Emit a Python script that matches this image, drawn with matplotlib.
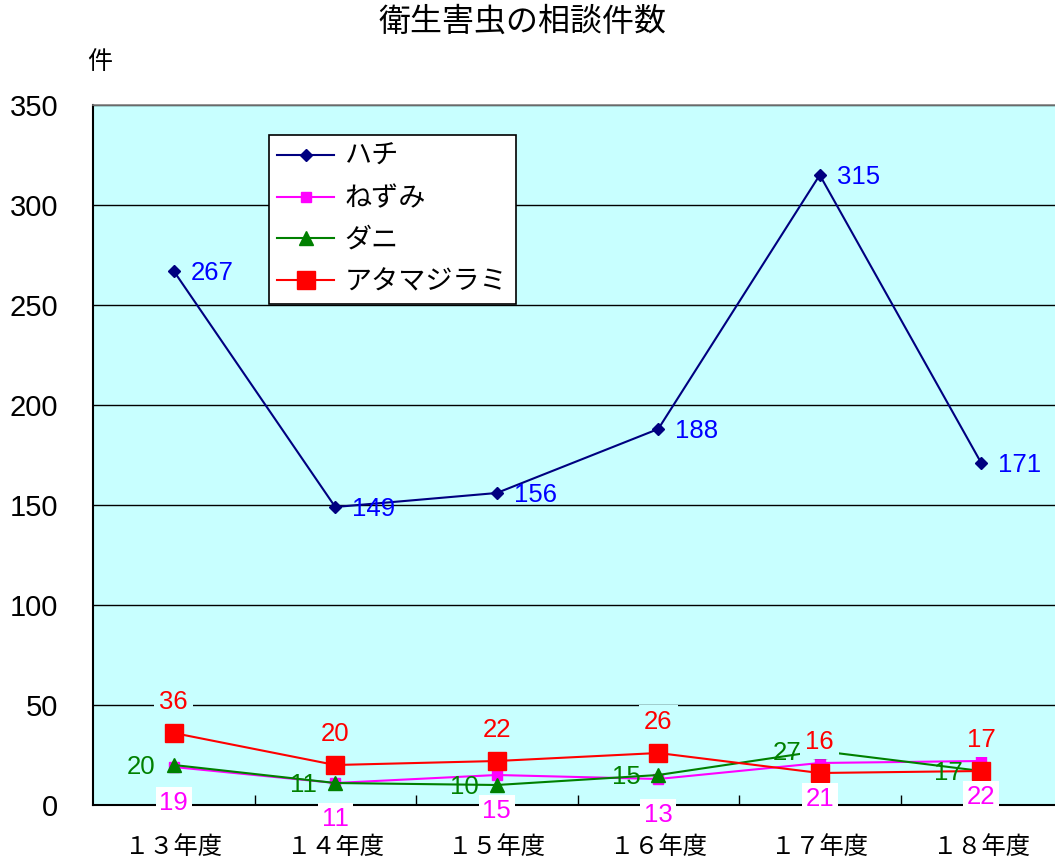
import matplotlib
matplotlib.use("Agg")
import matplotlib.pyplot as plt
from matplotlib.ticker import FixedLocator

plt.rcParams['font.family'] = ['Liberation Sans', 'Noto Sans CJK JP', 'DejaVu Sans']
JP = 'Noto Sans CJK JP'

# 衛生害虫の相談件数 (年度別)
years = ['１３年度', '１４年度', '１５年度', '１６年度', '１７年度', '１８年度']
hachi = [267, 149, 156, 188, 315, 171]
nezumi = [19, 11, 15, 13, 21, 22]
dani = [20, 11, 10, 15, 27, 17]
atama = [36, 20, 22, 26, 16, 17]
yticks = [0, 50, 100, 150, 200, 250, 300, 350]

W, H = 1055, 860
fig = plt.figure(figsize=(W / 100, H / 100), dpi=100)
# plot area runs slightly past the right edge of the image
ax = fig.add_axes([93 / W, 1 - 805 / H, (1062 - 93) / W, 700 / H])
ax.set_facecolor('#C8FFFF')

x = list(range(len(years)))
ax.plot(x, hachi, color='#000080', lw=1.5, marker='D', ms=6, label='ハチ', zorder=4)
ax.plot(x, nezumi, color='#FF00FF', lw=1.5, marker='s', ms=7, label='ねずみ', zorder=3)
ax.plot(x, dani, color='#008000', lw=1.5, marker='^', ms=10, label='ダニ', zorder=3)
ax.plot(x, atama, color='#FF0000', lw=1.5, marker='s', ms=13, label='アタマジラミ', zorder=3)

# data labels
lab = dict(textcoords='offset pixels', fontsize=18.5, zorder=6)
for i in x:
    ax.annotate(str(hachi[i]), (i, hachi[i]), xytext=(17, -2), ha='left', va='center',
                color='#0000FF', **lab)
    ax.annotate(str(nezumi[i]), (i, nezumi[i]), xytext=(0, -36), ha='center', va='center',
                color='#FF00FF', bbox=dict(boxstyle='square,pad=0.15', fc='white', ec='none'), **lab)
    ax.annotate(str(dani[i]), (i, dani[i]), xytext=(-18, -2), ha='right', va='center',
                color='#008000', **lab)
    ax.annotate(str(atama[i]), (i, atama[i]), xytext=(0, 31), ha='center', va='center',
                color='#FF0000', bbox=dict(boxstyle='square,pad=0.2', fc='#C8FFFF', ec='none'), **lab)

ax.set_xlim(-0.5, 5.5)
ax.set_ylim(0, 350)
ax.set_yticks(yticks)
ax.set_yticklabels([str(v) for v in yticks], fontsize=21)
ax.yaxis.grid(True, color='black', lw=1)
ax.set_axisbelow(True)
ax.tick_params(axis='y', length=0, pad=25)

ax.set_xticks(x)
ax.set_xticklabels(years, fontsize=17.5, family=JP)
ax.xaxis.set_minor_locator(FixedLocator([0.5, 1.5, 2.5, 3.5, 4.5]))
ax.tick_params(axis='x', which='major', length=0, pad=21)
ax.tick_params(axis='x', which='minor', direction='in', length=7, width=1)

for s in ['left', 'bottom']:
    ax.spines[s].set_color('black')
    ax.spines[s].set_linewidth(1.5)
ax.spines['right'].set_visible(False)
ax.spines['top'].set_color('#808080')
ax.spines['top'].set_linewidth(1.2)

leg = ax.legend(loc='upper left', bbox_to_anchor=(269 / W, 1 - 135 / H),
                bbox_transform=fig.transFigure, borderaxespad=0, frameon=True,
                fancybox=False, edgecolor='black', framealpha=1,
                prop={'family': JP, 'size': 19.5}, handlelength=2.1,
                labelspacing=0.55, borderpad=0.3, handletextpad=0.4)
leg.get_frame().set_linewidth(1.2)

fig.text(522 / W, 1 - 22 / H, '衛生害虫の相談件数', ha='center', va='center',
         fontsize=23, family=JP)
fig.text(100 / W, 1 - 62 / H, '件', ha='center', va='center', fontsize=18, family=JP)

fig.savefig('out.png', dpi=100)
